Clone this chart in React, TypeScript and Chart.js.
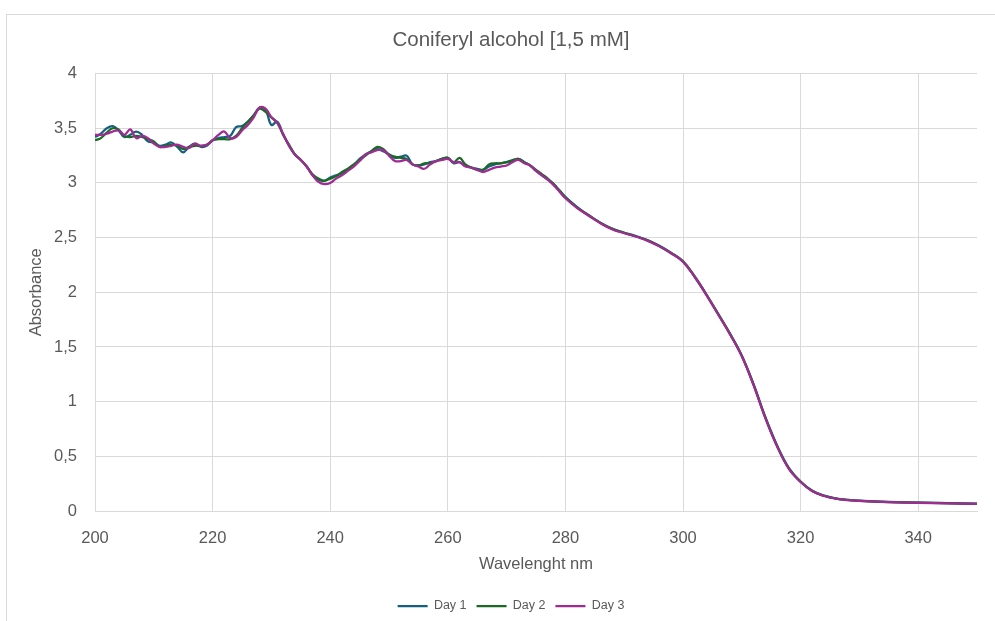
import { useEffect, useRef } from "react";
import { Chart, registerables } from "chart.js";

Chart.register(...registerables);

const chartTitle = "Coniferyl alcohol [1,5 mM]";
const xTitle = "Wavelenght nm";
const yTitle = "Absorbance";
const seriesNames = ["Day 1", "Day 2", "Day 3"];
const seriesColors = ["#156082", "#196B24", "#A02B93"];

const wavelengths = [
  200, 201, 202, 203, 204, 205, 206, 207, 208, 209,
  210, 211, 212, 213, 214, 215, 216, 217, 218, 219,
  220, 221, 222, 223, 224, 225, 226, 227, 228, 229,
  230, 231, 232, 233, 234, 235, 236, 237, 238, 239,
  240, 241, 242, 243, 244, 245, 246, 247, 248, 249,
  250, 251, 252, 253, 254, 255, 256, 257, 258, 259,
  260, 261, 262, 263, 264, 265, 266, 267, 268, 269,
  270, 271, 272, 273, 274, 275, 276, 277, 278, 279,
  280,
  282, 284, 286, 288, 290, 292, 294, 296, 298, 300,
  302, 304, 306, 308, 310, 312, 314, 316, 318, 320,
  322, 324, 326, 328, 330,
  335, 340, 345, 350,
];

const day1 = [
  3.42, 3.45, 3.50, 3.52, 3.48, 3.42, 3.44, 3.47, 3.44, 3.38,
  3.37, 3.34, 3.35, 3.37, 3.33, 3.28, 3.33, 3.36, 3.33, 3.34,
  3.39, 3.41, 3.42, 3.43, 3.51, 3.52, 3.56, 3.62, 3.69, 3.67,
  3.53, 3.56, 3.44, 3.34, 3.26, 3.21, 3.15, 3.07, 3.03, 3.02,
  3.05, 3.07, 3.09, 3.12, 3.16, 3.22, 3.26, 3.29, 3.31, 3.29,
  3.26, 3.23, 3.24, 3.25, 3.17, 3.16, 3.17, 3.19, 3.20, 3.22,
  3.23, 3.18, 3.19, 3.16, 3.14, 3.13, 3.12, 3.15, 3.17, 3.18,
  3.19, 3.20, 3.22, 3.19, 3.16, 3.11, 3.07, 3.03, 2.99, 2.93,
  2.87,
  2.78, 2.70, 2.635, 2.58, 2.545, 2.515, 2.475, 2.425, 2.36, 2.28,
  2.14, 1.975, 1.80, 1.62, 1.42, 1.16, 0.86, 0.60, 0.395, 0.27,
  0.185, 0.14, 0.115, 0.102, 0.094,
  0.083, 0.077, 0.072, 0.067,
];

const day2 = [
  3.39, 3.41, 3.46, 3.50, 3.49, 3.43, 3.42, 3.43, 3.42, 3.40,
  3.38, 3.33, 3.34, 3.35, 3.34, 3.31, 3.33, 3.34, 3.34, 3.35,
  3.39, 3.40, 3.40, 3.40, 3.43, 3.50, 3.56, 3.62, 3.68, 3.65,
  3.60, 3.55, 3.44, 3.35, 3.26, 3.21, 3.15, 3.08, 3.04, 3.02,
  3.04, 3.06, 3.10, 3.13, 3.17, 3.21, 3.25, 3.29, 3.33, 3.31,
  3.26, 3.24, 3.23, 3.22, 3.17, 3.16, 3.18, 3.18, 3.20, 3.22,
  3.23, 3.19, 3.23, 3.17, 3.14, 3.12, 3.12, 3.17, 3.18, 3.18,
  3.19, 3.21, 3.22, 3.19, 3.16, 3.12, 3.08, 3.04, 2.99, 2.93,
  2.87,
  2.775, 2.705, 2.635, 2.58, 2.545, 2.51, 2.475, 2.42, 2.36, 2.285,
  2.145, 1.98, 1.80, 1.62, 1.42, 1.155, 0.855, 0.595, 0.39, 0.268,
  0.183, 0.139, 0.114, 0.101, 0.093,
  0.082, 0.076, 0.071, 0.066,
];

const day3 = [
  3.44, 3.44, 3.45, 3.47, 3.48, 3.44, 3.49, 3.41, 3.43, 3.41,
  3.36, 3.33, 3.33, 3.34, 3.35, 3.33, 3.32, 3.36, 3.34, 3.35,
  3.39, 3.44, 3.47, 3.41, 3.42, 3.48, 3.53, 3.60, 3.69, 3.68,
  3.60, 3.55, 3.45, 3.34, 3.26, 3.21, 3.15, 3.07, 3.01, 2.99,
  3.00, 3.04, 3.07, 3.11, 3.15, 3.20, 3.26, 3.28, 3.30, 3.30,
  3.25, 3.20, 3.20, 3.21, 3.17, 3.15, 3.13, 3.17, 3.20, 3.21,
  3.22, 3.19, 3.19, 3.15, 3.14, 3.12, 3.10, 3.12, 3.14, 3.15,
  3.16, 3.19, 3.21, 3.18, 3.16, 3.11, 3.07, 3.03, 2.98, 2.92,
  2.86,
  2.77, 2.70, 2.63, 2.575, 2.54, 2.51, 2.47, 2.42, 2.355, 2.28,
  2.14, 1.975, 1.795, 1.615, 1.415, 1.15, 0.85, 0.59, 0.385, 0.265,
  0.18, 0.137, 0.112, 0.10, 0.092,
  0.081, 0.075, 0.07, 0.065,
];

const seriesValues = [day1, day2, day3];
const xTickValues = [200, 220, 240, 260, 280, 300, 320, 340];

const FONT = "'Liberation Sans', Arial, sans-serif";
const TEXT = "#595959";
const GRID = "#d9d9d9";

export default function App() {
  const canvasRef = useRef<HTMLCanvasElement | null>(null);

  useEffect(() => {
    if (!canvasRef.current) return;
    Chart.defaults.font.family = FONT;
    const datasets = seriesNames.map((name, i) => ({
      label: name,
      data: wavelengths.map((w, j) => ({ x: w, y: seriesValues[i][j] })),
      borderColor: seriesColors[i],
      backgroundColor: seriesColors[i],
      borderWidth: 2.25,
      pointRadius: 0,
      tension: 0.4,
      fill: false,
      order: 2 - i,
    }));
    const chart = new Chart(canvasRef.current, {
      type: "line",
      data: { datasets },
      options: {
        responsive: false,
        animation: false,
        layout: { padding: { left: 0, right: 0, top: 0, bottom: -1.25 } },
        plugins: {
          title: {
            display: true,
            text: chartTitle,
            color: TEXT,
            font: { size: 20.5, weight: "normal", family: FONT },
            padding: { top: 28, bottom: 21 },
          },
          legend: {
            position: "bottom",
            labels: {
              usePointStyle: true,
              pointStyle: "line",
              pointStyleWidth: 30,
              color: TEXT,
              font: { size: 12.5, family: FONT },
              padding: 10,
              sort: (a: any, b: any) => a.datasetIndex - b.datasetIndex,
            },
          },
          tooltip: { enabled: false },
        },
        scales: {
          x: {
            type: "linear",
            min: 200,
            max: 350,
            afterBuildTicks: (scale: any) => {
              scale.ticks = xTickValues.map((v) => ({ value: v }));
            },
            afterFit: (scale: any) => {
              scale.height = 78.75;
            },
            ticks: {
              stepSize: 20,
              padding: 18,
              color: TEXT,
              font: { size: 16.5, family: FONT },
              maxRotation: 0,
              autoSkip: false,
            },
            grid: { color: GRID, drawTicks: false },
            border: { color: GRID },
            title: {
              display: true,
              text: xTitle,
              color: TEXT,
              font: { size: 16.5, family: FONT },
              padding: { top: 0, bottom: 15 },
            },
          },
          y: {
            min: 0,
            max: 4,
            afterFit: (scale: any) => {
              scale.width = 95;
            },
            ticks: {
              stepSize: 0.5,
              padding: 18,
              color: TEXT,
              font: { size: 16.5, family: FONT },
              callback: (v: any) => String(v).replace(".", ","),
            },
            grid: { color: GRID, drawTicks: false },
            border: { color: GRID },
            title: {
              display: true,
              text: yTitle,
              color: TEXT,
              font: { size: 16.5, family: FONT },
              padding: { top: 27, bottom: 0 },
            },
          },
          yRightSpace: {
            position: "right",
            display: true,
            min: 0,
            max: 4,
            afterFit: (scale: any) => {
              scale.width = 45;
            },
            ticks: { display: false },
            grid: { display: false, drawTicks: false },
            border: { display: false },
          },
        },
      },
    });
    return () => chart.destroy();
  }, []);

  return (
    <div
      style={{
        position: "absolute",
        left: 0,
        top: 0,
        width: 995,
        height: 621,
        overflow: "hidden",
        background: "#ffffff",
      }}
    >
      <canvas
        ref={canvasRef}
        width={1022}
        height={621}
        style={{ position: "absolute", left: 0, top: 0, width: 1022, height: 621 }}
      />
      <div
        style={{
          position: "absolute",
          left: 6,
          top: 14,
          width: 1010,
          height: 620,
          border: "1px solid #d9d9d9",
          pointerEvents: "none",
        }}
      />
    </div>
  );
}
